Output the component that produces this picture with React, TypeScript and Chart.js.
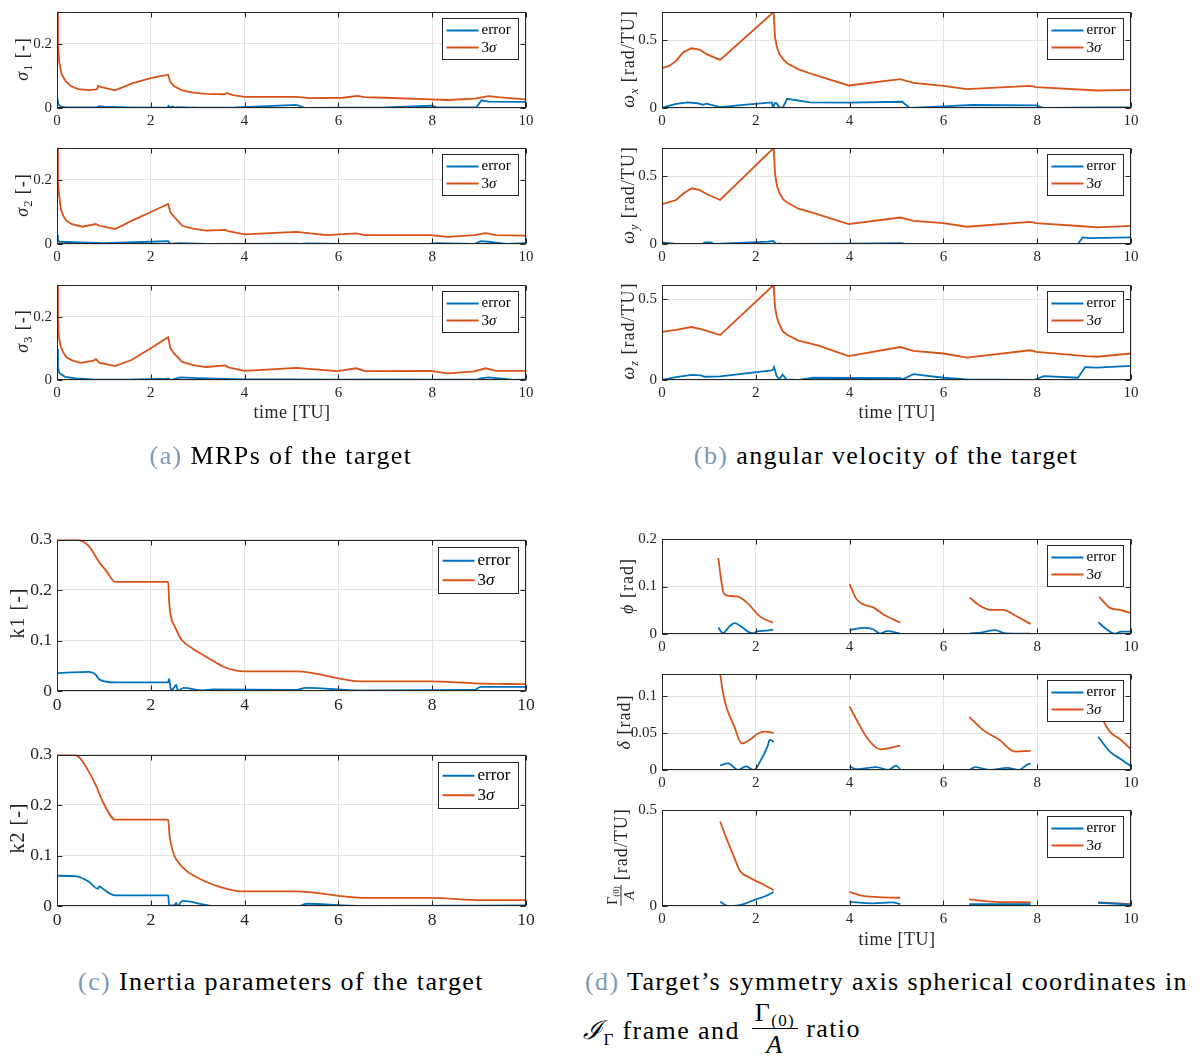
import React, { useEffect, useRef } from "react";
import { Chart, registerables } from "chart.js";

Chart.register(...registerables);

const BLUE = "#0072BD";
const ORANGE = "#D95319";
const AX = "#262626";
const GRID = "#e2e2e2";
const FONT = '"Liberation Serif", "Times New Roman", serif';
const CAP_BLUE = "#7a9ab8";

const X_TICKS = [0, 2, 4, 6, 8, 10];

// ---------- (a) MRPs ----------
const s1SigT = [0, 0.02, 0.05, 0.1, 0.18, 0.3, 0.46, 0.68, 0.85, 0.88, 0.95, 1.24, 1.6, 2.0, 2.37, 2.42, 2.5, 2.67, 2.9, 3.18, 3.58, 3.62, 3.75, 4.0, 5.1, 5.4, 6.1, 6.4, 6.55, 7.0, 7.96, 8.33, 8.9, 9.2, 9.4, 10];
const s1Sig = [0.3, 0.2, 0.14, 0.105, 0.085, 0.068, 0.059, 0.056, 0.058, 0.069, 0.065, 0.055, 0.077, 0.093, 0.104, 0.08, 0.068, 0.055, 0.048, 0.044, 0.043, 0.047, 0.04, 0.035, 0.035, 0.031, 0.032, 0.038, 0.034, 0.032, 0.027, 0.025, 0.029, 0.037, 0.034, 0.027];
const s1ErrT = [0, 0.03, 0.08, 0.2, 0.85, 0.9, 1.0, 1.5, 2.35, 2.38, 2.42, 2.47, 2.52, 2.56, 3.0, 3.8, 4.5, 5.1, 5.3, 6.0, 7.0, 8.0, 8.1, 8.95, 9.05, 9.2, 10];
const s1Err = [0.036, 0.012, 0.004, 0.002, 0.002, 0.006, 0.004, 0.002, 0.001, 0.007, 0.002, 0.005, 0.001, 0.003, 0.001, 0.002, 0.006, 0.01, 0.0, 0.001, 0.002, 0.007, 0.002, 0.003, 0.024, 0.02, 0.019];

const s2SigT = [0, 0.02, 0.04, 0.08, 0.13, 0.2, 0.32, 0.54, 0.83, 0.9, 1.24, 1.6, 2.0, 2.37, 2.42, 2.5, 2.67, 2.9, 3.18, 3.59, 3.65, 4.0, 5.1, 5.76, 6.38, 6.57, 7.96, 8.33, 8.9, 9.14, 9.36, 10];
const s2Sig = [0.3, 0.2, 0.16, 0.11, 0.089, 0.073, 0.062, 0.054, 0.0625, 0.057, 0.047, 0.073, 0.1, 0.125, 0.098, 0.085, 0.057, 0.048, 0.042, 0.044, 0.04, 0.03, 0.038, 0.028, 0.033, 0.028, 0.028, 0.022, 0.028, 0.034, 0.028, 0.026];
const s2ErrT = [0, 0.02, 0.05, 0.98, 2.0, 2.37, 2.42, 2.5, 2.63, 3.18, 5.1, 5.2, 5.32, 6.1, 7.96, 8.1, 8.9, 9.03, 9.2, 9.58, 10];
const s2Err = [0.028, 0.012, 0.007, 0.003, 0.007, 0.009, 0.0, 0.002, 0.003, 0.0, 0.001, 0.0, 0.002, 0.0, 0.001, 0.003, 0.0, 0.009, 0.007, 0.0, 0.003];

const s3SigT = [0, 0.02, 0.04, 0.08, 0.13, 0.2, 0.32, 0.5, 0.76, 0.83, 0.9, 1.24, 1.6, 2.0, 2.37, 2.42, 2.5, 2.67, 2.9, 3.18, 3.59, 3.65, 4.0, 5.1, 5.98, 6.38, 6.57, 7.96, 8.33, 8.9, 9.14, 9.36, 10];
const s3Sig = [0.3, 0.2, 0.135, 0.105, 0.088, 0.072, 0.062, 0.054, 0.06, 0.066, 0.055, 0.044, 0.064, 0.1, 0.135, 0.1, 0.083, 0.057, 0.047, 0.041, 0.046, 0.04, 0.029, 0.038, 0.028, 0.037, 0.028, 0.029, 0.021, 0.027, 0.037, 0.029, 0.029];
const s3ErrT = [0, 0.02, 0.05, 0.17, 0.4, 0.76, 1.5, 2.35, 2.38, 2.42, 2.63, 3.0, 4.0, 5.0, 6.0, 7.0, 8.0, 8.95, 9.03, 9.2, 9.5, 9.73, 10];
const s3Err = [0.098, 0.04, 0.022, 0.01, 0.005, 0.002, 0.001, 0.004, 0.005, 0.0, 0.008, 0.006, 0.002, 0.002, 0.001, 0.002, 0.001, 0.001, 0.005, 0.008, 0.004, 0.0, 0.002];

// ---------- (b) angular velocity ----------
const wxSigT = [0, 0.15, 0.3, 0.45, 0.63, 0.8, 0.96, 1.24, 2.38, 2.41, 2.45, 2.5, 2.58, 2.67, 2.91, 3.24, 3.98, 5.08, 5.36, 6.0, 6.5, 7.85, 7.98, 9.28, 10];
const wxSig = [0.293, 0.31, 0.345, 0.41, 0.44, 0.43, 0.395, 0.354, 0.707, 0.52, 0.45, 0.4, 0.36, 0.33, 0.285, 0.245, 0.166, 0.212, 0.185, 0.163, 0.139, 0.163, 0.154, 0.129, 0.134];
const wxErrT = [0, 0.1, 0.3, 0.55, 0.75, 0.87, 0.95, 1.24, 1.8, 2.34, 2.37, 2.4, 2.44, 2.5, 2.57, 2.67, 3.16, 4.0, 5.12, 5.28, 6.0, 6.6, 7.98, 8.14, 9.28, 10];
const wxErr = [0, 0.012, 0.03, 0.041, 0.035, 0.024, 0.032, 0.007, 0.025, 0.041, 0.0, 0.035, 0.035, 0.007, 0.0, 0.068, 0.041, 0.04, 0.046, 0, 0.012, 0.022, 0.02, 0, 0.005, 0.005];

const wySigT = [0, 0.3, 0.45, 0.63, 0.8, 0.96, 1.24, 2.38, 2.41, 2.45, 2.5, 2.58, 2.67, 2.91, 3.24, 3.98, 5.08, 5.36, 6.0, 6.5, 7.85, 7.98, 9.04, 9.28, 10];
const wySig = [0.293, 0.324, 0.37, 0.41, 0.398, 0.366, 0.324, 0.707, 0.52, 0.43, 0.378, 0.33, 0.305, 0.26, 0.227, 0.146, 0.195, 0.171, 0.154, 0.127, 0.163, 0.154, 0.129, 0.122, 0.134];
const wyErrT = [0, 0.3, 0.87, 0.91, 1.04, 1.12, 2.26, 2.37, 2.44, 2.5, 2.57, 3.98, 5.12, 5.2, 8.87, 8.97, 9.12, 10];
const wyErr = [0.012, 0.0, 0.002, 0.012, 0.012, 0.0, 0.017, 0.022, 0.0, 0.005, 0.0, 0.003, 0.007, 0, 0.0, 0.049, 0.044, 0.049];

const wzSigT = [0, 0.3, 0.63, 0.87, 1.24, 2.38, 2.41, 2.45, 2.5, 2.58, 2.67, 2.91, 3.32, 3.98, 5.08, 5.36, 6.0, 6.5, 7.85, 7.98, 9.04, 9.28, 10];
const wzSig = [0.298, 0.31, 0.328, 0.312, 0.278, 0.588, 0.45, 0.39, 0.344, 0.3, 0.28, 0.244, 0.214, 0.148, 0.204, 0.18, 0.164, 0.138, 0.184, 0.174, 0.148, 0.144, 0.164];
const wzErrT = [0, 0.3, 0.63, 0.83, 0.91, 1.24, 2.34, 2.37, 2.39, 2.44, 2.5, 2.57, 2.65, 2.91, 3.24, 5.08, 5.13, 5.36, 6.0, 6.5, 7.93, 8.14, 8.87, 9.02, 9.28, 10];
const wzErr = [0, 0.018, 0.032, 0.028, 0.02, 0.022, 0.06, 0.065, 0.08, 0.028, 0.002, 0.034, 0.004, 0, 0.014, 0.012, 0.004, 0.036, 0.014, 0.004, 0, 0.024, 0.014, 0.08, 0.076, 0.088];

// ---------- (c) inertia parameters ----------
const k1SigT = [0, 0.46, 0.55, 0.68, 0.8, 0.9, 1.05, 1.24, 2.37, 2.39, 2.41, 2.45, 2.52, 2.6, 2.67, 2.89, 3.18, 3.55, 3.8, 4.0, 5.1, 6.5, 7.96, 8.9, 10];
const k1Sig = [0.3, 0.299, 0.296, 0.287, 0.27, 0.255, 0.238, 0.216, 0.216, 0.18, 0.158, 0.14, 0.126, 0.11, 0.1, 0.084, 0.068, 0.048, 0.041, 0.039, 0.039, 0.019, 0.019, 0.015, 0.0135];
const k1ErrT = [0, 0.3, 0.68, 0.83, 0.9, 1.24, 2.37, 2.39, 2.43, 2.49, 2.54, 2.58, 2.7, 3.1, 3.33, 5.1, 5.3, 6.5, 8.9, 9.03, 10];
const k1Err = [0.035, 0.037, 0.038, 0.032, 0.023, 0.017, 0.017, 0.024, 0.002, 0.006, 0.012, 0.0, 0.006, 0.001, 0.003, 0.002, 0.006, 0.001, 0.002, 0.008, 0.008];

const k2SigT = [0, 0.39, 0.5, 0.61, 0.83, 0.98, 1.24, 2.37, 2.4, 2.43, 2.5, 2.56, 2.74, 3.18, 3.5, 3.92, 5.1, 6.12, 6.57, 7.96, 9.07, 10];
const k2Sig = [0.3, 0.299, 0.292, 0.277, 0.239, 0.206, 0.171, 0.171, 0.14, 0.123, 0.1, 0.09, 0.071, 0.048, 0.037, 0.029, 0.029, 0.019, 0.016, 0.016, 0.0116, 0.0116];
const k2ErrT = [0, 0.39, 0.68, 0.87, 0.9, 0.98, 1.24, 2.37, 2.39, 2.5, 2.54, 2.58, 2.67, 3.18, 3.33, 5.17, 5.32, 6.5, 10];
const k2Err = [0.06, 0.059, 0.048, 0.034, 0.039, 0.034, 0.021, 0.021, 0.001, 0.001, 0.006, 0.0, 0.01, 0.002, 0.0, 0.0, 0.0045, 0.0, 0.001];

// ---------- (d) symmetry axis (null = gap) ----------
const phSigT = [1.2, 1.26, 1.32, 1.45, 1.6, 1.8, 2.1, 2.37, 3, 4.0, 4.15, 4.3, 4.5, 4.74, 5.08, 6, 6.56, 6.77, 7.0, 7.27, 7.53, 7.86, 9, 9.32, 9.55, 9.8, 10];
const phSig = [0.16, 0.115, 0.085, 0.08, 0.079, 0.067, 0.036, 0.024, null, 0.105, 0.073, 0.062, 0.056, 0.04, 0.024, null, 0.077, 0.06, 0.051, 0.051, 0.039, 0.021, null, 0.078, 0.055, 0.05, 0.044];
const phErrT = [1.2, 1.3, 1.45, 1.55, 1.7, 1.85, 1.95, 2.05, 2.2, 2.37, 3, 4.0, 4.3, 4.5, 4.65, 4.8, 5.08, 6, 6.55, 6.8, 7.1, 7.3, 7.6, 7.85, 9, 9.3, 9.45, 9.65, 9.8, 10];
const phErr = [0.014, 0.002, 0.017, 0.023, 0.015, 0.004, 0.002, 0.006, 0.007, 0.009, null, 0.008, 0.013, 0.01, 0.001, 0.006, 0.001, null, 0.001, 0.003, 0.008, 0.002, 0.001, 0.001, null, 0.025, 0.012, 0.001, 0.005, 0.005];

const dlSigT = [1.22, 1.3, 1.37, 1.54, 1.7, 1.87, 2.04, 2.2, 2.38, 3, 4.0, 4.15, 4.4, 4.66, 5.08, 6, 6.55, 6.85, 7.19, 7.53, 7.86, 9, 9.3, 9.4, 9.55, 9.8, 10];
const dlSig = [0.14, 0.105, 0.086, 0.059, 0.036, 0.041, 0.049, 0.052, 0.05, null, 0.086, 0.068, 0.041, 0.028, 0.033, null, 0.072, 0.054, 0.041, 0.025, 0.026, null, 0.085, 0.068, 0.052, 0.04, 0.028];
const dlErrT = [1.24, 1.41, 1.62, 1.79, 1.96, 2.13, 2.25, 2.3, 2.38, 3, 4.0, 4.15, 4.57, 4.83, 4.99, 5.08, 6, 6.55, 6.68, 7.0, 7.36, 7.61, 7.78, 7.86, 9, 9.3, 9.55, 9.8, 10];
const dlErr = [0.006, 0.009, 0, 0.005, 0, 0.016, 0.032, 0.041, 0.038, null, 0.005, 0.001, 0.004, 0, 0.006, 0.001, null, 0, 0.004, 0, 0.003, 0, 0.007, 0.009, null, 0.045, 0.025, 0.014, 0.005];

const gaSigT = [1.24, 1.37, 1.54, 1.66, 1.87, 2.13, 2.38, 3, 4.0, 4.32, 5.08, 6, 6.55, 7.1, 7.86, 9, 9.3, 10];
const gaSig = [0.44, 0.355, 0.253, 0.184, 0.147, 0.116, 0.082, null, 0.073, 0.051, 0.043, null, 0.034, 0.022, 0.019, null, 0.019, 0.01];
const gaErrT = [1.24, 1.41, 1.62, 1.79, 1.96, 2.2, 2.38, 3, 4.0, 4.49, 4.91, 5.08, 6, 6.55, 7.86, 9, 9.3, 10];
const gaErr = [0.022, 0, 0.003, 0.014, 0.031, 0.051, 0.073, null, 0.022, 0.014, 0.019, 0.01, null, 0.01, 0.01, null, 0.017, 0.007];

type PanelCfg = {
  left: number; top: number; w: number; h: number; ymax: number; yTicks: number[];
  sigT: number[]; sig: (number | null)[]; errT: number[]; err: (number | null)[];
  fs: number; legW: number; legH: number; legTop: number; legFs: number; smooth: boolean;
};

const small = { fs: 15, legW: 76, legH: 41, legTop: 6, legFs: 15 };
const big = { fs: 17.5, legW: 80, legH: 46, legTop: 7, legFs: 17 };

const PANELS: PanelCfg[] = [
  { left: 57, top: 10, w: 469, h: 98, ymax: 0.3, yTicks: [0, 0.2], sigT: s1SigT, sig: s1Sig, errT: s1ErrT, err: s1Err, smooth: false, ...small },
  { left: 57, top: 146, w: 469, h: 98, ymax: 0.3, yTicks: [0, 0.2], sigT: s2SigT, sig: s2Sig, errT: s2ErrT, err: s2Err, smooth: false, ...small },
  { left: 57, top: 283, w: 469, h: 97, ymax: 0.3, yTicks: [0, 0.2], sigT: s3SigT, sig: s3Sig, errT: s3ErrT, err: s3Err, smooth: false, ...small },
  { left: 662, top: 10, w: 469, h: 98, ymax: 0.707, yTicks: [0, 0.5], sigT: wxSigT, sig: wxSig, errT: wxErrT, err: wxErr, smooth: false, ...small },
  { left: 662, top: 146, w: 469, h: 98, ymax: 0.707, yTicks: [0, 0.5], sigT: wySigT, sig: wySig, errT: wyErrT, err: wyErr, smooth: false, ...small },
  { left: 662, top: 283, w: 469, h: 97, ymax: 0.588, yTicks: [0, 0.5], sigT: wzSigT, sig: wzSig, errT: wzErrT, err: wzErr, smooth: false, ...small },
  { left: 57, top: 536, w: 469, h: 155, ymax: 0.3, yTicks: [0, 0.1, 0.2, 0.3], sigT: k1SigT, sig: k1Sig, errT: k1ErrT, err: k1Err, smooth: true, ...big },
  { left: 57, top: 751, w: 469, h: 155, ymax: 0.3, yTicks: [0, 0.1, 0.2, 0.3], sigT: k2SigT, sig: k2Sig, errT: k2ErrT, err: k2Err, smooth: true, ...big },
  { left: 662, top: 537, w: 469, h: 97, ymax: 0.2, yTicks: [0, 0.1, 0.2], sigT: phSigT, sig: phSig, errT: phErrT, err: phErr, smooth: true, ...small },
  { left: 662, top: 672, w: 469, h: 98, ymax: 0.13, yTicks: [0, 0.05, 0.1], sigT: dlSigT, sig: dlSig, errT: dlErrT, err: dlErr, smooth: true, ...small },
  { left: 662, top: 808, w: 469, h: 98, ymax: 0.5, yTicks: [0, 0.5], sigT: gaSigT, sig: gaSig, errT: gaErrT, err: gaErr, smooth: true, ...small },
];

const PAD_L = 50, PAD_R = 16, PAD_T = 12, PAD_B = 26;

function Panel({ cfg }: { cfg: PanelCfg }) {
  const ref = useRef<HTMLCanvasElement>(null);
  useEffect(() => {
    if (!ref.current) return;
    const toPts = (t: number[], v: (number | null)[]) => t.map((x, i) => ({ x, y: v[i] }));
    const boxPlugin = {
      id: "matlabBox",
      afterDatasetsDraw(chart: any) {
        const { ctx, chartArea } = chart;
        const l = Math.round(chartArea.left) + 0.5;
        const r = Math.round(chartArea.right) - 0.5;
        const t = Math.round(chartArea.top) + 0.5;
        const b = Math.round(chartArea.bottom) - 0.5;
        ctx.save();
        ctx.strokeStyle = AX;
        ctx.lineWidth = 1;
        ctx.strokeRect(l, t, r - l, b - t);
        ctx.beginPath();
        const tl = 5;
        for (const v of X_TICKS) {
          const px = Math.round(chart.scales.x.getPixelForValue(v)) + 0.5;
          ctx.moveTo(px, b); ctx.lineTo(px, b - tl);
          ctx.moveTo(px, t); ctx.lineTo(px, t + tl);
        }
        for (const v of cfg.yTicks) {
          const py = Math.round(chart.scales.y.getPixelForValue(v)) + 0.5;
          ctx.moveTo(l, py); ctx.lineTo(l + tl, py);
          ctx.moveTo(r, py); ctx.lineTo(r - tl, py);
        }
        ctx.stroke();
        ctx.restore();
      },
      afterDraw(chart: any) {
        const { ctx, chartArea } = chart;
        const bx = Math.round(chartArea.right - 8 - cfg.legW) + 0.5;
        const by = Math.round(chartArea.top + cfg.legTop) + 0.5;
        ctx.save();
        ctx.fillStyle = "#ffffff";
        ctx.fillRect(bx, by, cfg.legW, cfg.legH);
        ctx.strokeStyle = AX;
        ctx.lineWidth = 1;
        ctx.strokeRect(bx, by, cfg.legW, cfg.legH);
        const rows = [
          { y: by + cfg.legH * 0.29, color: BLUE },
          { y: by + cfg.legH * 0.71, color: ORANGE },
        ];
        const lineL = bx + 4, lineR = bx + 36, tx = bx + 39;
        rows.forEach((row) => {
          ctx.strokeStyle = row.color;
          ctx.lineWidth = 2;
          ctx.beginPath();
          ctx.moveTo(lineL, row.y);
          ctx.lineTo(lineR, row.y);
          ctx.stroke();
        });
        ctx.fillStyle = "#000";
        ctx.textBaseline = "middle";
        ctx.textAlign = "left";
        ctx.font = `${cfg.legFs}px ${FONT}`;
        ctx.fillText("error", tx, rows[0].y);
        ctx.fillText("3", tx, rows[1].y);
        const w3 = ctx.measureText("3").width;
        ctx.font = `italic ${cfg.legFs}px ${FONT}`;
        ctx.fillText("σ", tx + w3, rows[1].y);
        ctx.restore();
      },
    };
    const tickFont = { family: FONT, size: cfg.fs };
    const lineOpts = cfg.smooth ? { cubicInterpolationMode: "monotone" as const } : { tension: 0 };
    const chart = new Chart(ref.current, {
      type: "line",
      data: {
        datasets: [
          { label: "error", data: toPts(cfg.errT, cfg.err) as any, borderColor: BLUE, borderWidth: 1.8, pointRadius: 0, spanGaps: false, fill: false, ...lineOpts },
          { label: "3σ", data: toPts(cfg.sigT, cfg.sig) as any, borderColor: ORANGE, borderWidth: 1.8, pointRadius: 0, spanGaps: false, fill: false, ...lineOpts },
        ],
      },
      options: {
        animation: false,
        responsive: false,
        devicePixelRatio: 1,
        layout: { padding: { left: 0, right: PAD_R, top: PAD_T, bottom: 0 } },
        plugins: { legend: { display: false }, tooltip: { enabled: false } },
        scales: {
          x: {
            type: "linear",
            min: 0,
            max: 10,
            afterBuildTicks: (s: any) => { s.ticks = X_TICKS.map((v) => ({ value: v })); },
            afterFit: (s: any) => { s.height = PAD_B; },
            grid: { color: GRID, lineWidth: 1, drawTicks: false },
            border: { display: false },
            ticks: { font: tickFont, color: AX, padding: 4, maxRotation: 0, autoSkip: false, callback: (v: any) => String(v) },
          },
          y: {
            type: "linear",
            min: 0,
            max: cfg.ymax,
            afterBuildTicks: (s: any) => { s.ticks = cfg.yTicks.map((v) => ({ value: v })); },
            afterFit: (s: any) => { s.width = PAD_L; },
            grid: { color: GRID, lineWidth: 1, drawTicks: false },
            border: { display: false },
            ticks: { font: tickFont, color: AX, padding: 5, autoSkip: false, callback: (v: any) => String(v) },
          },
        },
      } as any,
      plugins: [boxPlugin as any],
    });
    return () => chart.destroy();
  }, []);
  const cw = cfg.w + PAD_L + PAD_R;
  const ch = cfg.h + PAD_T + PAD_B;
  return (
    <canvas
      ref={ref}
      width={cw}
      height={ch}
      style={{ position: "absolute", left: cfg.left - PAD_L, top: cfg.top - PAD_T, width: cw, height: ch }}
    />
  );
}

const sub: React.CSSProperties = { fontSize: "0.68em", position: "relative", top: "0.3em" };

function YLabel({ x, y, size, children }: { x: number; y: number; size: number; children: React.ReactNode }) {
  return (
    <div
      style={{
        position: "absolute", left: x, top: y, transform: "translate(-50%, -50%) rotate(-90deg)",
        whiteSpace: "nowrap", fontSize: size, letterSpacing: "1px", color: "#262626", lineHeight: 1,
      }}
    >
      {children}
    </div>
  );
}

function Centered({ x, y, size, children }: { x: number; y: number; size: number; children: React.ReactNode }) {
  return (
    <div
      style={{
        position: "absolute", left: x, top: y, transform: "translate(-50%, -50%)",
        whiteSpace: "nowrap", fontSize: size, lineHeight: 1.2,
      }}
    >
      {children}
    </div>
  );
}

const capStyle: React.CSSProperties = { letterSpacing: "1.4px" };

export default function App() {
  return (
    <div
      style={{
        position: "absolute", left: 0, top: 0, width: 1202, height: 1059, background: "#fff",
        overflow: "hidden", fontFamily: FONT, color: "#000",
      }}
    >
      {PANELS.map((p, i) => <Panel key={i} cfg={p} />)}

      {/* y labels (a) */}
      <YLabel x={22} y={59} size={18}><i>σ</i><span style={sub}>1</span>&nbsp;[-]</YLabel>
      <YLabel x={22} y={195} size={18}><i>σ</i><span style={sub}>2</span>&nbsp;[-]</YLabel>
      <YLabel x={22} y={331} size={18}><i>σ</i><span style={sub}>3</span>&nbsp;[-]</YLabel>
      {/* y labels (b) */}
      <YLabel x={628} y={59} size={18}><i>ω</i><span style={sub}><i>x</i></span>&nbsp;[rad/TU]</YLabel>
      <YLabel x={628} y={195} size={18}><i>ω</i><span style={sub}><i>y</i></span>&nbsp;[rad/TU]</YLabel>
      <YLabel x={628} y={331} size={18}><i>ω</i><span style={sub}><i>z</i></span>&nbsp;[rad/TU]</YLabel>
      {/* y labels (c) */}
      <YLabel x={17} y={613} size={20}>k1&nbsp;[-]</YLabel>
      <YLabel x={17} y={828} size={20}>k2&nbsp;[-]</YLabel>
      {/* y labels (d) */}
      <YLabel x={627} y={586} size={18}><i>ϕ</i>&nbsp;[rad]</YLabel>
      <YLabel x={624} y={722} size={18}><i>δ</i>&nbsp;[rad]</YLabel>
      <YLabel x={621} y={857} size={18}>
        <span style={{ display: "inline-flex", flexDirection: "column", alignItems: "center", fontSize: 14, lineHeight: 1, marginRight: 5, verticalAlign: "middle", letterSpacing: 0 }}>
          <span style={{ borderBottom: "1px solid #262626", padding: "0 1px 1px" }}>Γ<span style={{ fontSize: 9, position: "relative", top: 2 }}>(0)</span></span>
          <span style={{ fontStyle: "italic", paddingTop: 1 }}>A</span>
        </span>
        <span style={{ verticalAlign: "middle" }}>[rad/TU]</span>
      </YLabel>

      {/* x labels */}
      <Centered x={292} y={413} size={18}><span style={{ letterSpacing: "0.5px", color: "#262626" }}>time [TU]</span></Centered>
      <Centered x={897} y={413} size={18}><span style={{ letterSpacing: "0.5px", color: "#262626" }}>time [TU]</span></Centered>
      <Centered x={897} y={940} size={18}><span style={{ letterSpacing: "0.5px", color: "#262626" }}>time [TU]</span></Centered>

      {/* captions */}
      <Centered x={281} y={456} size={26}><span style={capStyle}><span style={{ color: CAP_BLUE }}>(a)</span> MRPs of the target</span></Centered>
      <Centered x={886} y={456} size={26}><span style={capStyle}><span style={{ color: CAP_BLUE }}>(b)</span> angular velocity of the target</span></Centered>
      <Centered x={281} y={982} size={26}><span style={capStyle}><span style={{ color: CAP_BLUE }}>(c)</span> Inertia parameters of the target</span></Centered>
      <div style={{ position: "absolute", left: 585, top: 982, transform: "translateY(-50%)", whiteSpace: "nowrap", fontSize: 26, lineHeight: 1.2, ...capStyle }}>
        <span style={{ color: CAP_BLUE }}>(d)</span> Target’s symmetry axis spherical coordinates in
      </div>
      <div style={{ position: "absolute", left: 583, top: 1001, height: 56, display: "flex", alignItems: "center", whiteSpace: "nowrap", fontSize: 26, ...capStyle }}>
        <span><i>ℐ</i><span style={{ fontSize: 17, position: "relative", top: "0.35em" }}>Γ</span>&nbsp;frame and&nbsp;</span>
        <span style={{ display: "inline-flex", flexDirection: "column", alignItems: "center", lineHeight: 1, margin: "0 8px 0 4px" }}>
          <span style={{ borderBottom: "1.5px solid #000", padding: "0 3px 2px" }}>Γ<span style={{ fontSize: 17, position: "relative", top: "0.3em" }}>(0)</span></span>
          <span style={{ fontStyle: "italic", paddingTop: 3 }}>A</span>
        </span>
        <span>ratio</span>
      </div>
    </div>
  );
}
